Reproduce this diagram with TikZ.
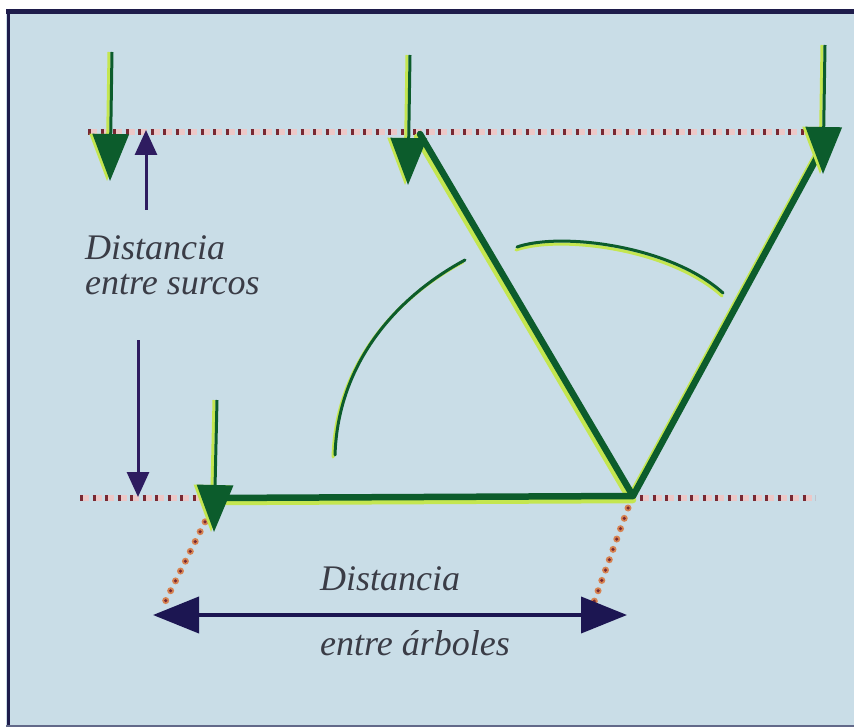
\documentclass[tikz,border=0pt]{standalone}
\usepackage{fontspec}
\setmainfont{Liberation Serif}
\usetikzlibrary{arrows.meta}
\definecolor{bg}{RGB}{201,221,231}
\definecolor{frame}{RGB}{30,28,75}
\definecolor{dgreen}{RGB}{12,92,44}
\definecolor{ygreen}{RGB}{196,230,80}
\definecolor{navy}{RGB}{28,22,82}
\definecolor{purp}{RGB}{46,28,96}
\definecolor{dotred}{RGB}{120,40,50}
\definecolor{dotpink}{RGB}{236,200,200}
\definecolor{dotorange}{RGB}{215,130,80}
\definecolor{txt}{RGB}{58,60,70}
\tikzset{
  lbl/.style={font=\fontsize{36}{36}\selectfont\itshape, text=txt, inner sep=0pt, anchor=base west},
  thickg/.style={draw=dgreen, line width=6.5pt, line cap=round, line join=round},
  thicky/.style={draw=ygreen, line width=6.5pt, line cap=round, line join=round},
  arcg/.style={draw=dgreen, line width=3pt, line cap=round},
  arcy/.style={draw=ygreen, line width=3pt, line cap=round},
  garrow/.style={draw=dgreen, line width=3pt, -{Triangle[width=36pt,length=47pt]}, fill=dgreen},
  yarrow/.style={draw=ygreen, line width=3pt, -{Triangle[width=36pt,length=47pt]}, fill=ygreen},
  parrow/.style={draw=purp, line width=3pt, -{Triangle[width=22pt,length=25pt]}, fill=purp},
  narrow/.style={draw=navy, line width=4pt, {Triangle[width=36pt,length=46pt]}-{Triangle[width=36pt,length=46pt]}, fill=navy},
  dotsbg/.style={draw=dotpink, line width=6pt, dash pattern=on 9pt off 3.5pt},
  dotsfg/.style={draw=dotred, line width=6pt, dash pattern=on 3pt off 9.5pt},
  dotsdiag/.style={draw=dotorange, line width=7pt, line cap=round, dash pattern=on 0pt off 11pt},
  dotsdiagc/.style={draw=dotred, line width=3.5pt, line cap=round, dash pattern=on 0pt off 11pt}
}
\begin{document}
\begin{tikzpicture}[x=1pt,y=-1pt]
\useasboundingbox (0,0) rectangle (854,727);
\fill[white] (0,0) rectangle (854,727);
\fill[bg] (6,9) rectangle (854,727);
\draw[frame, line width=5pt] (6,11.5) -- (854,11.5);
\draw[frame, line width=3pt] (8,9) -- (8,727);
\draw[frame!60!bg, line width=2pt] (6,726) -- (854,726);

% key points
\coordinate (A) at (420,134);
\coordinate (V) at (633,496);
\coordinate (B) at (820,152);
\coordinate (C) at (214,498);

% dotted guide lines
\coordinate (t1) at (88,132);  \coordinate (t2) at (810,132);
\coordinate (b1) at (80,498);  \coordinate (b2) at (200,498);
\coordinate (b3) at (640,498); \coordinate (b4) at (815,498);
\coordinate (dl1) at (210,512); \coordinate (dl2) at (163,606);
\coordinate (dr1) at (628,508); \coordinate (dr2) at (594,602);
\draw[dotsbg] (t1) -- (t2);
\draw[dotsfg] (t1) -- (t2);
\draw[dotsbg] (b1) -- (b2);
\draw[dotsfg] (b1) -- (b2);
\draw[dotsbg] (b3) -- (b4);
\draw[dotsfg] (b3) -- (b4);
\draw[dotsdiag] (dl1) -- (dl2);
\draw[dotsdiagc] (dl1) -- (dl2);
\draw[dotsdiag] (dr1) -- (dr2);
\draw[dotsdiagc] (dr1) -- (dr2);

% thick green triangle lines (with yellow-green highlight)
\draw[thicky] ([shift={(-3,3)}]A) -- ([shift={(-3,3)}]V);
\draw[thicky] ([shift={(-3,2)}]B) -- ([shift={(-3,2)}]V);
\draw[thicky] ([shift={(0,4)}]C) -- ([shift={(0,4)}]V);
\draw[thickg] (A) -- (V) -- (B);
\draw[thickg] (C) -- (V);

% arcs
\coordinate (la1) at (335,455); \coordinate (la2) at (465,260);
\coordinate (ra1) at (517,247); \coordinate (ra2) at (723,293);
\draw[arcy] ([shift={(-2,2)}]la1) .. controls ([shift={(-2,2)}]338,360) and ([shift={(-2,2)}]400,295) .. ([shift={(-2,2)}]la2);
\draw[arcg] (la1) .. controls (338,360) and (400,295) .. (la2);
\draw[arcy] ([shift={(-1,3)}]ra1) .. controls ([shift={(-1,3)}]560,232) and ([shift={(-1,3)}]670,245) .. ([shift={(-1,3)}]ra2);
\draw[arcg] (ra1) .. controls (560,232) and (670,245) .. (ra2);

% green downward arrows
\coordinate (g1s) at (112,52);  \coordinate (g1e) at (110,181);
\coordinate (g2s) at (410,55);  \coordinate (g2e) at (408,185);
\coordinate (g3s) at (825,45);  \coordinate (g3e) at (823,174);
\coordinate (g4s) at (217,400); \coordinate (g4e) at (214,532);
\foreach \s/\e in {g1s/g1e,g2s/g2e,g3s/g3e,g4s/g4e}{
  \draw[yarrow] ([xshift=-3pt]\s) -- ([xshift=-3pt]\e);
  \draw[garrow] (\s) -- (\e);
}

% purple arrows (distance between furrows)
\coordinate (p1s) at (146,210); \coordinate (p1e) at (146,130);
\coordinate (p2s) at (138,340); \coordinate (p2e) at (138,497);
\draw[parrow] (p1s) -- (p1e);
\draw[parrow] (p2s) -- (p2e);

% navy double arrow (distance between trees)
\coordinate (n1) at (153,615); \coordinate (n2) at (627,615);
\draw[narrow] (n1) -- (n2);

% labels
\node[lbl] (ds) at (85,260) {Distancia};
\node[lbl] (es) at (85,295) {entre surcos};
\node[lbl] (da) at (320,590) {Distancia};
\node[lbl] (ea) at (320,655) {entre árboles};
\end{tikzpicture}
\end{document}
